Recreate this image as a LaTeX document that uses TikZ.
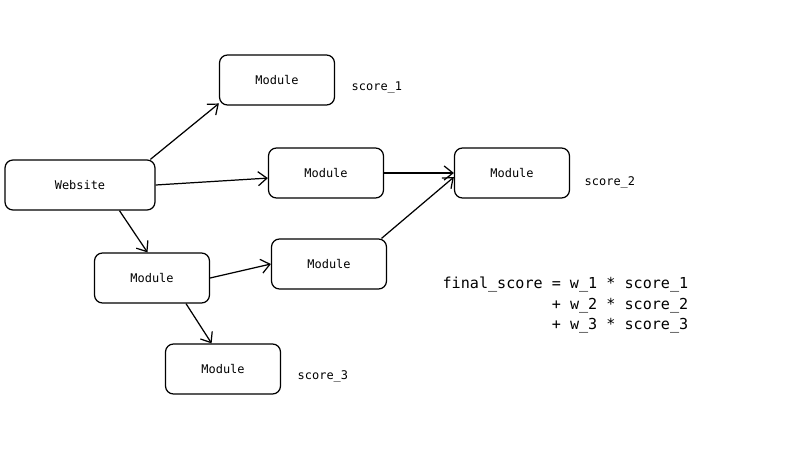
\documentclass[tikz,border=0pt]{standalone}
\usepackage{fontspec}
\setmonofont{DejaVu Sans Mono}
\usepackage{tikz}
\usetikzlibrary{positioning,arrows.meta}

\begin{document}
\begin{tikzpicture}[
      >={Straight Barb[length=5pt,width=8pt]}, line width=0.7pt,
      st/.style={draw,rounded corners=1.6mm,minimum width=23mm,minimum height=10mm,font=\ttfamily\fontsize{6.8}{8}\selectfont},
      src/.style={st,minimum width=30mm},
      lbl/.style={inner sep=0pt,font=\ttfamily\fontsize{6.8}{8}\selectfont},
      frm/.style={inner sep=0pt,align=left,font=\ttfamily\fontsize{8.6}{11.9}\selectfont},
    ]
    \useasboundingbox (0,0) rectangle (16,9);
    \node[src] (web) at (1.6,5.3) {Website};
    \node[st] (m1) at (5.54,7.4) {Module};
    \node[st] (m2) at (6.52,5.54) {Module};
    \node[st] (m3) at (10.24,5.54) {Module};
    \node[st] (m4) at (3.04,3.44) {Module};
    \node[st] (m5) at (6.58,3.72) {Module};
    \node[st] (m6) at (4.46,1.62) {Module};
    \node[lbl, right=3.2mm of m1.east, yshift=-1.6mm, anchor=west] (s1) {score\_1};
    \node[lbl, right=2.8mm of m3.east, yshift=-1.8mm, anchor=west] (s2) {score\_2};
    \node[lbl, right=3.2mm of m6.east, yshift=-1.4mm, anchor=west] (s3) {score\_3};
    \node[frm, anchor=west] (fs) at (8.84,2.9) {final\_score = w\_1 * score\_1\\
      \hphantom{final\_score }+ w\_2 * score\_2\\
      \hphantom{final\_score }+ w\_3 * score\_3};
    \draw[->] (web.20) -- (m1.202);
    \draw[->] (web.east) -- (m2.185);
    \draw[->] (web.327) -- (m4.100);
    \draw[->] (m4.east) -- (m5.west);
    \draw[->] (m4.323) -- (m6.114);
    \draw[->] (m2.east) -- (m3.west);
    \draw[->] (m5.26) -- (m3.184);
  \end{tikzpicture}
\end{document}
